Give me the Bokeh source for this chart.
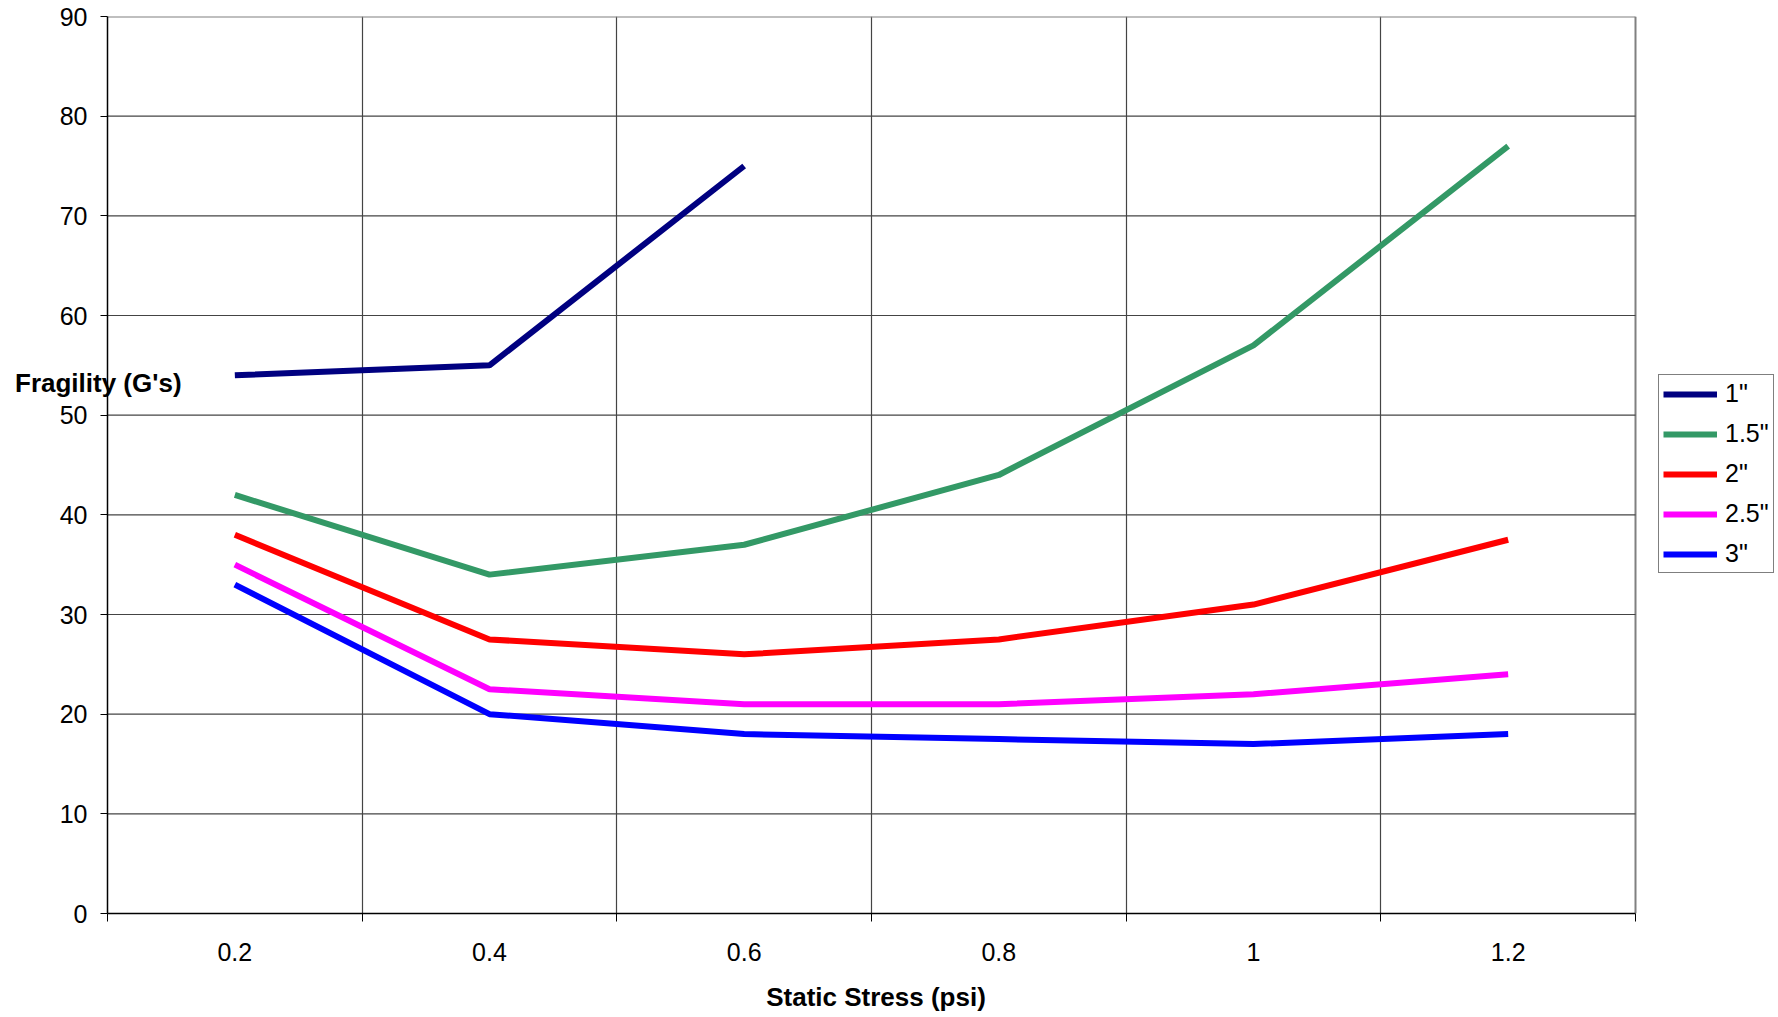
from bokeh.plotting import figure
from bokeh.models import Range1d, FixedTicker, Legend, LegendItem, Div, Grid
from bokeh.layouts import column
from bokeh.embed import file_html
from bokeh.resources import INLINE

# ---- data ----
x_labels = ["0.2", "0.4", "0.6", "0.8", "1", "1.2"]
series_names = ['1"', '1.5"', '2"', '2.5"', '3"']
s_1 = [54, 55, 75]
s_15 = [42, 34, 37, 44, 57, 77]
s_2 = [38, 27.5, 26, 27.5, 31, 37.5]
s_25 = [35, 22.5, 21, 21, 22, 24]
s_3 = [33, 20, 18, 17.5, 17, 18]
colors = ["#000080", "#339966", "#FF0000", "#FF00FF", "#0000FF"]
y_ticks = [0, 10, 20, 30, 40, 50, 60, 70, 80, 90]
y_title = "Fragility (G's)"
x_title = "Static Stress (psi)"

FONT = "Liberation Sans"
W, H = 1778, 1017
LEFT, PLOT_RIGHT, TOP, BOTTOM = 107, 1635, 16, 104
n = len(x_labels)
centers = [i + 0.5 for i in range(n)]
bounds = list(range(n + 1))
ymax = y_ticks[-1]

# frame runs to the right edge so the legend (drawn in the frame) is not clipped;
# the visible plot area ends at x = n
x_end = n * (W - LEFT) / (PLOT_RIGHT - LEFT)

p = figure(width=W, height=H, output_backend="svg", toolbar_location=None,
           x_range=Range1d(0, x_end), y_range=Range1d(0, ymax),
           min_border_left=LEFT, min_border_right=0, min_border_top=TOP,
           min_border_bottom=BOTTOM)
p.background_fill_color = "white"
p.border_fill_color = "white"
p.outline_line_color = None

# x axis: labels at category centers, tick marks at boundaries
p.xaxis.ticker = FixedTicker(ticks=centers, minor_ticks=bounds)
p.xaxis.bounds = (0, n)
p.xaxis.major_label_overrides = {c: l for c, l in zip(centers, x_labels)}
p.xaxis.major_tick_out = 0
p.xaxis.major_tick_in = 0
p.xaxis.minor_tick_out = 8
p.xaxis.minor_tick_in = 0
p.xaxis.minor_tick_line_color = "black"
p.xaxis.axis_line_color = "black"
p.xaxis.axis_line_width = 1.5
p.xaxis.major_label_text_font = FONT
p.xaxis.major_label_text_font_size = "25px"
p.xaxis.major_label_text_color = "black"
p.xaxis.major_label_standoff = 21

p.yaxis.ticker = FixedTicker(ticks=y_ticks)
p.yaxis.minor_tick_line_color = None
p.yaxis.major_tick_out = 7
p.yaxis.major_tick_in = 0
p.yaxis.major_tick_line_color = "black"
p.yaxis.axis_line_color = "black"
p.yaxis.axis_line_width = 1.5
p.yaxis.major_label_text_font = FONT
p.yaxis.major_label_text_font_size = "25px"
p.yaxis.major_label_text_color = "black"
p.yaxis.major_label_standoff = 13

# vertical grid lines at category boundaries
p.xgrid.ticker = FixedTicker(ticks=bounds[:-1])
p.xgrid.grid_line_color = "#444444"
p.xgrid.grid_line_width = 1.2
p.ygrid.visible = False
# right border of the plot area (grey, like Excel)
p.add_layout(Grid(dimension=0, ticker=FixedTicker(ticks=[n]),
                  grid_line_color="#808080", grid_line_width=2))

# horizontal grid lines limited to the plot area, top one as grey border
p.segment(x0=0, x1=n, y0=y_ticks[1:-1], y1=y_ticks[1:-1],
          line_color="#444444", line_width=1.2)
p.segment(x0=0, x1=n, y0=[ymax], y1=[ymax], line_color="#808080", line_width=2)

all_series = [s_1, s_15, s_2, s_25, s_3]
items = []
for name, vals, col in zip(series_names, all_series, colors):
    r = p.line(centers[:len(vals)], vals, line_color=col, line_width=6)
    items.append(LegendItem(label=name, renderers=[r]))

legend = Legend(items=items, location=(1551, 340), orientation="vertical")
legend.border_line_color = "black"
legend.border_line_width = 1
legend.background_fill_color = "white"
legend.padding = 4
legend.margin = 0
legend.spacing = 11
legend.glyph_width = 54
legend.glyph_height = 20
legend.label_height = 20
legend.label_standoff = 8
legend.label_text_font = FONT
legend.label_text_font_size = "25px"
legend.label_text_color = "black"
p.add_layout(legend)

# horizontal y-axis title (Excel style), overlapping the axis
ydiv = Div(text=y_title, styles={
    "position": "absolute", "left": "10px", "top": "363px", "z-index": "10",
    "font-family": FONT, "font-size": "26px", "font-weight": "bold",
    "color": "black", "white-space": "nowrap", "line-height": "30px"})

# x-axis title centred under the plot area (not the extended frame)
xdiv = Div(text=x_title, styles={
    "position": "absolute", "left": "%dpx" % ((LEFT + PLOT_RIGHT) // 2), "top": "977px",
    "transform": "translateX(-50%)", "z-index": "10",
    "font-family": FONT, "font-size": "26px", "font-weight": "bold",
    "color": "black", "white-space": "nowrap", "line-height": "30px"})

layout = column(p, ydiv, xdiv)
open("out.html", "w").write(file_html(layout, INLINE))
